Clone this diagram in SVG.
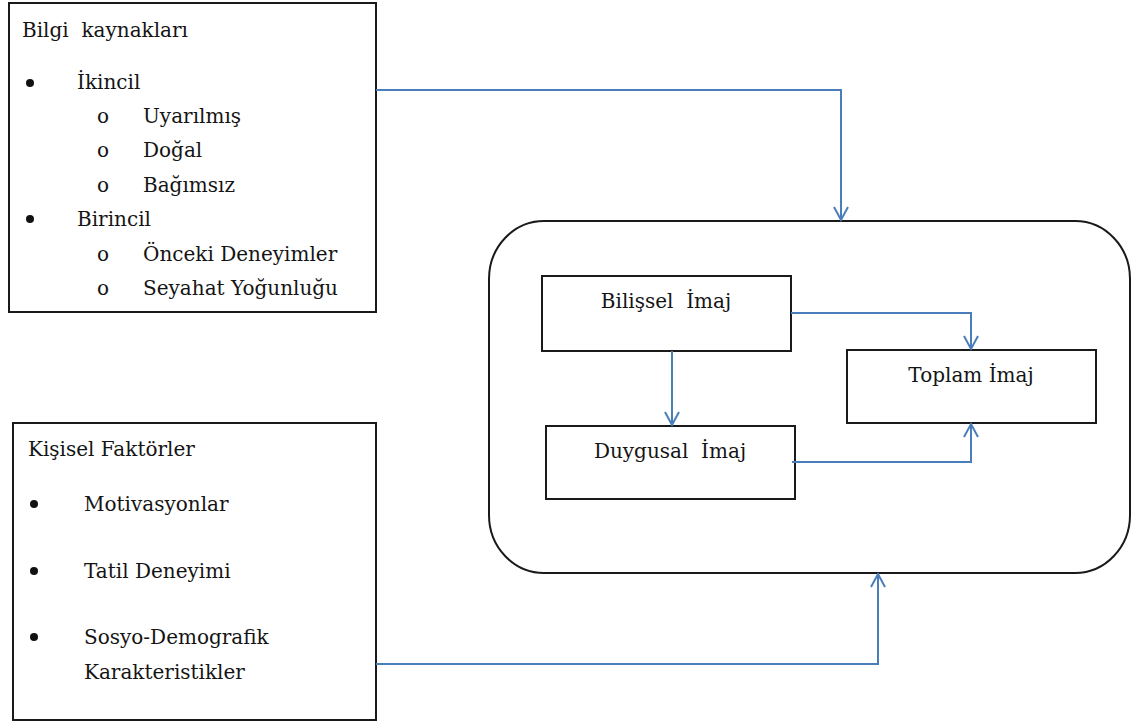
<svg xmlns="http://www.w3.org/2000/svg" width="1132" height="722" viewBox="0 0 1132 722">
  <defs>
    <style>
      .box { fill: #ffffff; stroke: #1a1a1a; stroke-width: 2; }
      .txt { font-size: 20px; fill: #141414; }
      .pre { white-space: pre; }
      .mid { text-anchor: middle; }
      .dot { fill: #111111; }
      .conn { fill: none; stroke: #4a7ebb; stroke-width: 2; }
    </style>
    <marker id="vee" markerUnits="userSpaceOnUse" markerWidth="20" markerHeight="20" refX="14" refY="8" orient="auto">
      <path d="M1,1 L14,8 L1,15" fill="none" stroke="#4a7ebb" stroke-width="2"/>
    </marker>
  </defs>

  <rect width="1132" height="722" fill="#ffffff"/>

  <g font-family="'DejaVu Serif', 'Liberation Serif', serif">
  <!-- information sources -->
  <g id="bilgi-kaynaklari">
    <rect class="box" x="9" y="3" width="367" height="309"/>
    <text class="txt pre" x="22" y="37" xml:space="preserve">Bilgi  kaynakları</text>
    <circle class="dot" cx="30" cy="83" r="4"/>
    <text class="txt" x="77" y="88.6">İkincil</text>
    <text class="txt" x="97" y="123">o</text>
    <text class="txt" x="143" y="123">Uyarılmış</text>
    <text class="txt" x="97" y="157.4">o</text>
    <text class="txt" x="143" y="157.4">Doğal</text>
    <text class="txt" x="97" y="191.8">o</text>
    <text class="txt" x="143" y="191.8">Bağımsız</text>
    <circle class="dot" cx="30" cy="219" r="4"/>
    <text class="txt" x="77" y="226.2">Birincil</text>
    <text class="txt" x="97" y="260.6">o</text>
    <text class="txt" x="143" y="260.6">Önceki Deneyimler</text>
    <text class="txt" x="97" y="295">o</text>
    <text class="txt" x="143" y="295">Seyahat Yoğunluğu</text>
  </g>

  <!-- personal factors -->
  <g id="kisisel-faktorler">
    <rect class="box" x="13" y="423" width="363" height="297"/>
    <text class="txt" x="28" y="456">Kişisel Faktörler</text>
    <circle class="dot" cx="34" cy="504" r="4"/>
    <text class="txt" x="84" y="511">Motivasyonlar</text>
    <circle class="dot" cx="34" cy="571" r="4"/>
    <text class="txt" x="84" y="578">Tatil Deneyimi</text>
    <circle class="dot" cx="34" cy="637" r="4"/>
    <text class="txt" x="84" y="644">Sosyo-Demografik</text>
    <text class="txt" x="84" y="679">Karakteristikler</text>
  </g>

  <!-- destination image container -->
  <g id="imaj">
    <rect class="box" x="489" y="221" width="641" height="352" rx="55" ry="58"/>
  </g>

  <g id="bilissel-imaj">
    <rect class="box" x="542" y="276" width="249" height="75"/>
    <text class="txt mid pre" x="666" y="308" xml:space="preserve">Bilişsel  İmaj</text>
  </g>

  <g id="toplam-imaj">
    <rect class="box" x="847" y="350" width="249" height="73"/>
    <text class="txt mid" x="971" y="382">Toplam İmaj</text>
  </g>

  <g id="duygusal-imaj">
    <rect class="box" x="546" y="426" width="249" height="73"/>
    <text class="txt mid pre" x="670" y="458" xml:space="preserve">Duygusal  İmaj</text>
  </g>
  </g>

  <!-- connectors -->
  <g id="connectors">
    <path class="conn" d="M376,90 H841 V220" marker-end="url(#vee)"/>
    <path class="conn" d="M376,664 H878 V574" marker-end="url(#vee)"/>
    <path class="conn" d="M791,313 H971 V349" marker-end="url(#vee)"/>
    <path class="conn" d="M672,351 V425" marker-end="url(#vee)"/>
    <path class="conn" d="M792,462 H971 V424" marker-end="url(#vee)"/>
  </g>
</svg>
